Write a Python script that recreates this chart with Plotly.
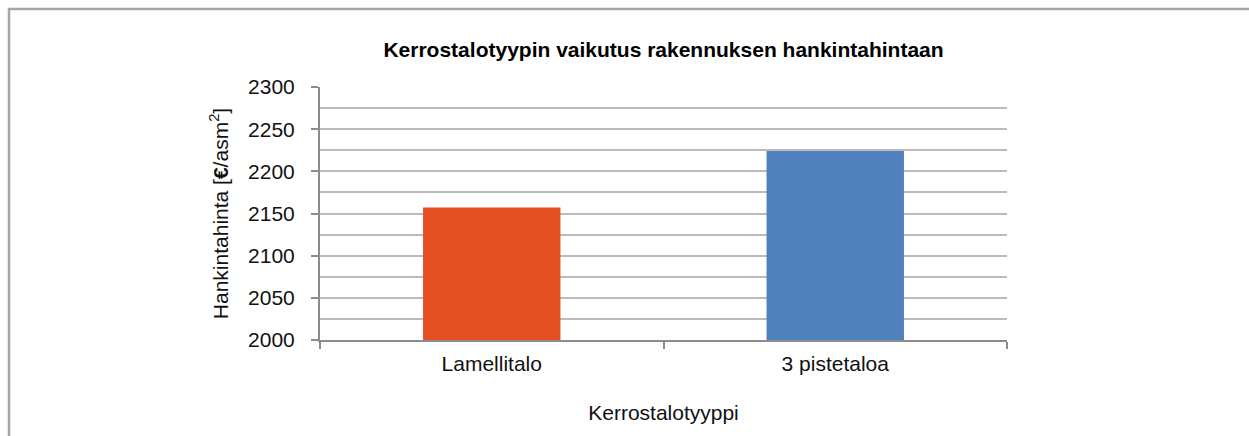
import plotly.graph_objects as go

categories = ["Lamellitalo", "3 pistetaloa"]
values = [2157, 2224]
bar_colors = ["#E24F22", "#4F81BD"]

title_text = "<b>Kerrostalotyypin vaikutus rakennuksen hankintahintaan</b>"
x_title = "Kerrostalotyyppi"
y_title = "Hankintahinta [<b>€</b>/asm<sup>2</sup>]"
y_ticks = [2000, 2050, 2100, 2150, 2200, 2250, 2300]

W, H = 1249, 436
L, R, T, B = 320, W - 1007, 87, H - 340
pw, ph = W - L - R, H - T - B

FONT = "Liberation Sans, Arial, Helvetica, sans-serif"
FS = 21

fig = go.Figure(
    go.Bar(
        x=categories,
        y=values,
        marker=dict(color=bar_colors, line=dict(width=0)),
        width=0.4,
        base=0,
    )
)

def px_to_paper_x(px):
    return (px - L) / pw

def px_to_paper_y(py):
    return (H - B - py) / ph

fig.add_shape(
    type="rect", xref="paper", yref="paper",
    x0=px_to_paper_x(9), x1=px_to_paper_x(1270),
    y0=px_to_paper_y(470), y1=px_to_paper_y(9),
    line=dict(color="#A6A6A6", width=2.5), fillcolor="rgba(0,0,0,0)",
    layer="below",
)

fig.update_layout(
    width=W, height=H,
    margin=dict(l=L, r=R, t=T, b=B, autoexpand=False),
    paper_bgcolor="white", plot_bgcolor="white",
    font=dict(family=FONT, color="#111111", size=FS),
    showlegend=False,
    title=dict(
        text=title_text, x=0.5, xanchor="center", xref="paper",
        y=1 - 50 / H, yanchor="middle", yref="container",
        font=dict(family=FONT, size=21, color="#000000"),
    ),
    xaxis=dict(
        type="category",
        showline=True, linecolor="#8C8C8C", linewidth=2,
        ticks="outside", tickson="boundaries", ticklen=7, tickwidth=2, tickcolor="#8C8C8C",
        ticklabelstandoff=4,
        showgrid=False,
        tickfont=dict(size=FS),
        title=dict(text=x_title, standoff=31, font=dict(size=FS)),
    ),
    yaxis=dict(
        range=[2000, 2300],
        tickvals=y_ticks,
        showline=True, linecolor="#8C8C8C", linewidth=2,
        ticks="outside", ticklen=7, tickwidth=2, tickcolor="#8C8C8C",
        ticklabelstandoff=12,
        showgrid=True, gridcolor="#BBBBBB", gridwidth=2,
        minor=dict(dtick=25, tick0=2000, showgrid=True, gridcolor="#BBBBBB", gridwidth=2, ticks=""),
        zeroline=False,
        tickfont=dict(size=FS),
        title=dict(text=y_title, standoff=14, font=dict(size=FS)),
    ),
)

fig.write_html(
    "out.html",
    config={"displayModeBar": False},
    post_script="document.body.style.margin='0px';",
)
